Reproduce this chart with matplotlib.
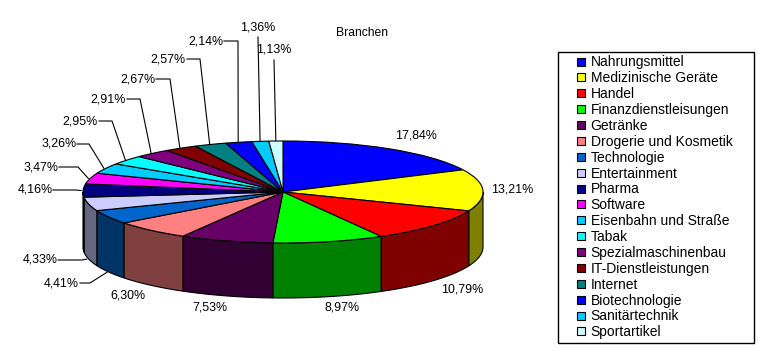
import numpy as np
import matplotlib.pyplot as plt
from matplotlib.patches import Wedge, Polygon
from matplotlib.lines import Line2D
from matplotlib.colors import to_rgb
from matplotlib.transforms import Affine2D

plt.rcParams["font.family"] = "Liberation Sans"

# Branchen und Anteile in %
branchen = ["Nahrungsmittel", "Medizinische Geräte", "Handel", "Finanzdienstleisungen",
            "Getränke", "Drogerie und Kosmetik", "Technologie", "Entertainment", "Pharma",
            "Software", "Eisenbahn und Straße", "Tabak", "Spezialmaschinenbau",
            "IT-Dienstleistungen", "Internet", "Biotechnologie", "Sanitärtechnik", "Sportartikel"]
anteile = [17.84, 13.21, 10.79, 8.97, 7.53, 6.30, 4.41, 4.33, 4.16,
           3.47, 3.26, 2.95, 2.91, 2.67, 2.57, 2.14, 1.36, 1.13]
farben = ["#0000FF", "#FFFF00", "#FF0000", "#00FF00", "#660066", "#FF8080", "#0066CC",
          "#CCCCFF", "#000080", "#FF00FF", "#00CCFF", "#00FFFF", "#800080", "#800000",
          "#008080", "#0000FF", "#00CCFF", "#CCFFFF"]

# label layout (text centre) and leader lines (start, knick) in pixel
label_pos = [(416, 136), (512, 189), (462, 289), (342, 308), (210, 308), (128, 296),
             (61, 283), (40, 260), (35, 190), (41, 167), (59, 144), (80, 121),
             (108, 99), (138, 79), (168, 59), (206, 41), (258, 27), (274, 50)]
leader = [None] * 6 + [((80, 283), (90, 283)), ((58, 260), (82, 260)), ((53, 190), (75, 190)),
                       ((59, 167), (78, 167)), ((77, 144), (89, 144)), ((99, 121), (112, 121)),
                       ((127, 99), (140, 99)), ((156, 79), (170, 79)), ((187, 59), (200, 59)),
                       ((224, 41), (238, 41)), ((258, 37), (258, 37)), ((274, 60), (274, 60))]

W, H = 758, 351
fig = plt.figure(figsize=(W / 100, H / 100), dpi=100)
ax = fig.add_axes([0, 0, 1, 1])
ax.set_xlim(0, W)
ax.set_ylim(H, 0)
ax.axis("off")

cx, cy, a, b, tiefe = 283, 192, 200, 51, 55

werte = np.array(anteile)
cum = np.concatenate([[0], np.cumsum(werte)]) / werte.sum()
t_start = 90 - 360 * cum[:-1]
t_end = 90 - 360 * cum[1:]


def punkt(t, dy=0.0, r=1.0):
    t = np.radians(t)
    return cx + r * a * np.cos(t), cy - r * b * np.sin(t) + dy


def dunkler(c):
    return tuple(0.5 * v for v in to_rgb(c))


# Seitenflaechen (nur vordere Haelfte sichtbar)
for i in range(len(werte)):
    lo = max(t_end[i], -180)
    hi = min(t_start[i], 0)
    if lo >= hi:
        continue
    ts = np.linspace(hi, lo, 80)
    xo, yo = punkt(ts)
    xu, yu = punkt(ts[::-1], tiefe)
    ax.add_patch(Polygon(np.column_stack([np.r_[xo, xu], np.r_[yo, yu]]),
                         fc=dunkler(farben[i]), ec="black", lw=0.8))

# Deckflaeche
tr = Affine2D().scale(a, -b).translate(cx, cy) + ax.transData
for i in range(len(werte)):
    ax.add_patch(Wedge((0, 0), 1, t_end[i], t_start[i], fc=farben[i], ec="black",
                       lw=0.8, transform=tr))

# Beschriftungen
for i in range(len(werte)):
    txt = f"{anteile[i]:.2f}%".replace(".", ",")
    ax.text(*label_pos[i], txt, ha="center", va="center", fontsize=8.9)
    if leader[i] is not None:
        mid = (t_start[i] + t_end[i]) / 2
        dy = tiefe if np.sin(np.radians(mid)) < 0 else 0
        px, py = punkt(mid, dy, 1.01)
        (x0, y0), (x1, y1) = leader[i]
        ax.plot([x0, x1, px], [y0, y1, py], color="black", lw=0.8)

ax.text(362, 33, "Branchen", ha="center", va="center", fontsize=8.7)

handles = [Line2D([], [], marker="s", ls="none", mfc=c, mec="black", mew=0.8, ms=5.8)
           for c in farben]
leg = fig.legend(handles, branchen, loc="upper left",
                 bbox_to_anchor=(558 / W, 1 - 343 / H, 196 / W, 291 / H),
                 mode="expand", fontsize=10, frameon=True, fancybox=False,
                 edgecolor="black", framealpha=1, borderpad=0.25, labelspacing=0.135,
                 handlelength=2.8, handletextpad=-0.7, borderaxespad=0)
leg.get_frame().set_linewidth(1.0)

fig.savefig("out.png", dpi=100)
